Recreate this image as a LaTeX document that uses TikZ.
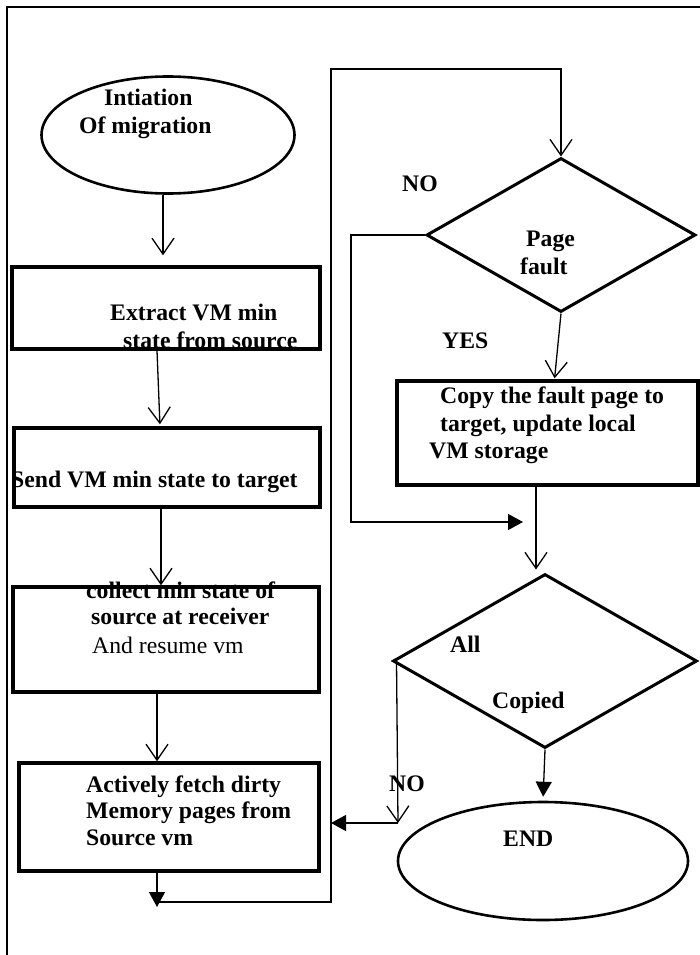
\documentclass[tikz,border=0pt]{standalone}
\usepackage{fontspec}
\setmainfont{Liberation Serif}
\usetikzlibrary{shapes.geometric, arrows.meta}

\begin{document}
\begin{tikzpicture}[x=1pt, y=-1pt,
  terminal/.style={ellipse, draw, line width=2.6pt, inner sep=0pt},
  process/.style={rectangle, draw, line width=3.4pt, inner sep=0pt},
  decision/.style={diamond, draw, line width=3pt, inner sep=0pt},
  lbl/.style={anchor=base west, inner sep=0pt, font=\fontsize{23.7}{28}\selectfont\bfseries},
  plainlbl/.style={anchor=base west, inner sep=0pt, font=\fontsize{23.7}{28}\selectfont},
  flow/.style={draw, line width=1.3pt, -{Straight Barb[length=16pt, width=22pt]}},
  fillflow/.style={draw, line width=1.3pt, -{Triangle[length=15pt, width=16pt]}},
  line/.style={draw, line width=1.6pt}
]
  \useasboundingbox (0,0) rectangle (700,955);
  \path[line] (7,955) -- (7,7) -- (700,7);

  \node[terminal, minimum width=253pt, minimum height=117pt] (start) at (168,135) {};
  \node[process, minimum width=308pt, minimum height=82pt]  (extract) at (166,308) {};
  \node[process, minimum width=306pt, minimum height=79pt]  (sendst)  at (167,467.5) {};
  \node[process, minimum width=306pt, minimum height=105pt] (collect) at (166,639.5) {};
  \node[process, minimum width=300pt, minimum height=108pt] (fetch)   at (169,817) {};

  \node[decision, minimum width=269pt, minimum height=154pt] (fault) at (561,235) {};
  \node[process, minimum width=301pt, minimum height=104pt]  (copypg) at (547.5,433) {};
  \node[decision, minimum width=304pt, minimum height=174pt] (allcp) at (545,661) {};
  \node[terminal, minimum width=290pt, minimum height=118pt] (finish) at (543,861) {};

  \node[lbl] (t1a) at (104,106) {Intiation};
  \node[lbl] (t1b) at (79,133)  {Of migration};
  \node[lbl] (t2a) at (110,320) {Extract VM min};
  \node[lbl] (t2b) at (123,348) {state from source};
  \node[lbl] (t3a) at (11,487)  {Send VM min state to target};
  \node[lbl] (t4a) at (86,598)  {collect min state of};
  \node[lbl] (t4b) at (91,624)  {source at receiver};
  \node[plainlbl] (t4c) at (92,653) {And resume vm};
  \node[lbl] (t5a) at (86,792)  {Actively fetch dirty};
  \node[lbl] (t5b) at (86,818)  {Memory pages from};
  \node[lbl] (t5c) at (86,845)  {Source vm};

  \node[lbl] (t6a) at (526,246) {Page};
  \node[lbl] (t6b) at (520,274) {fault};
  \node[lbl] (no1) at (402,191) {NO};
  \node[lbl] (yes) at (442,348) {YES};
  \node[lbl] (t7a) at (440,403) {Copy the fault page to};
  \node[lbl] (t7b) at (440,431) {target, update local};
  \node[lbl] (t7c) at (429,458) {VM storage};
  \node[lbl] (t8a) at (450,652) {All};
  \node[lbl] (t8b) at (492,708) {Copied};
  \node[lbl] (no2) at (389,791) {NO};
  \node[lbl] (t9a) at (503,846) {END};

  \coordinate (loopa) at (157,902);
  \coordinate (loopb) at (331,902);
  \coordinate (loopc) at (331,69);
  \coordinate (nobend) at (351,522);
  \coordinate (noend) at (523,522);
  \coordinate (nob) at (398,823);

  \path[flow, shorten >=10pt] ([xshift=-5pt]start.south) -- ([xshift=-5pt]start.south |- extract.north);
  \path[flow, shorten >=2pt] ([xshift=-9pt]extract.south) -- ([xshift=-7pt]sendst.north);
  \path[flow] ([xshift=-6pt]sendst.south) -- ([xshift=-5pt]collect.north);
  \path[flow] ([xshift=-9pt]collect.south) -- ([xshift=-12pt]fetch.north);
  \path[fillflow] ([xshift=-12pt]fetch.south) -- ([yshift=-5pt]loopa);
  \path[flow] (loopa) -- (loopb) -- (loopc) -| (fault.north);

  \path[fillflow] (fault.west) -| (nobend) -- (noend);
  \path[flow, shorten >=1pt] (fault.south) -- ([xshift=7pt]copypg.north);
  \path[flow, shorten >=3pt] ([xshift=-11.5pt]copypg.south) -- ([xshift=-11.5pt]copypg.south |- allcp.north);
  \path[fillflow, shorten >=4pt] (allcp.south) -- (finish.north);
  \path[flow] ([xshift=5pt]allcp.west) -- (nob);
  \path[fillflow] (nob) -- (nob -| loopb);
\end{tikzpicture}
\end{document}
